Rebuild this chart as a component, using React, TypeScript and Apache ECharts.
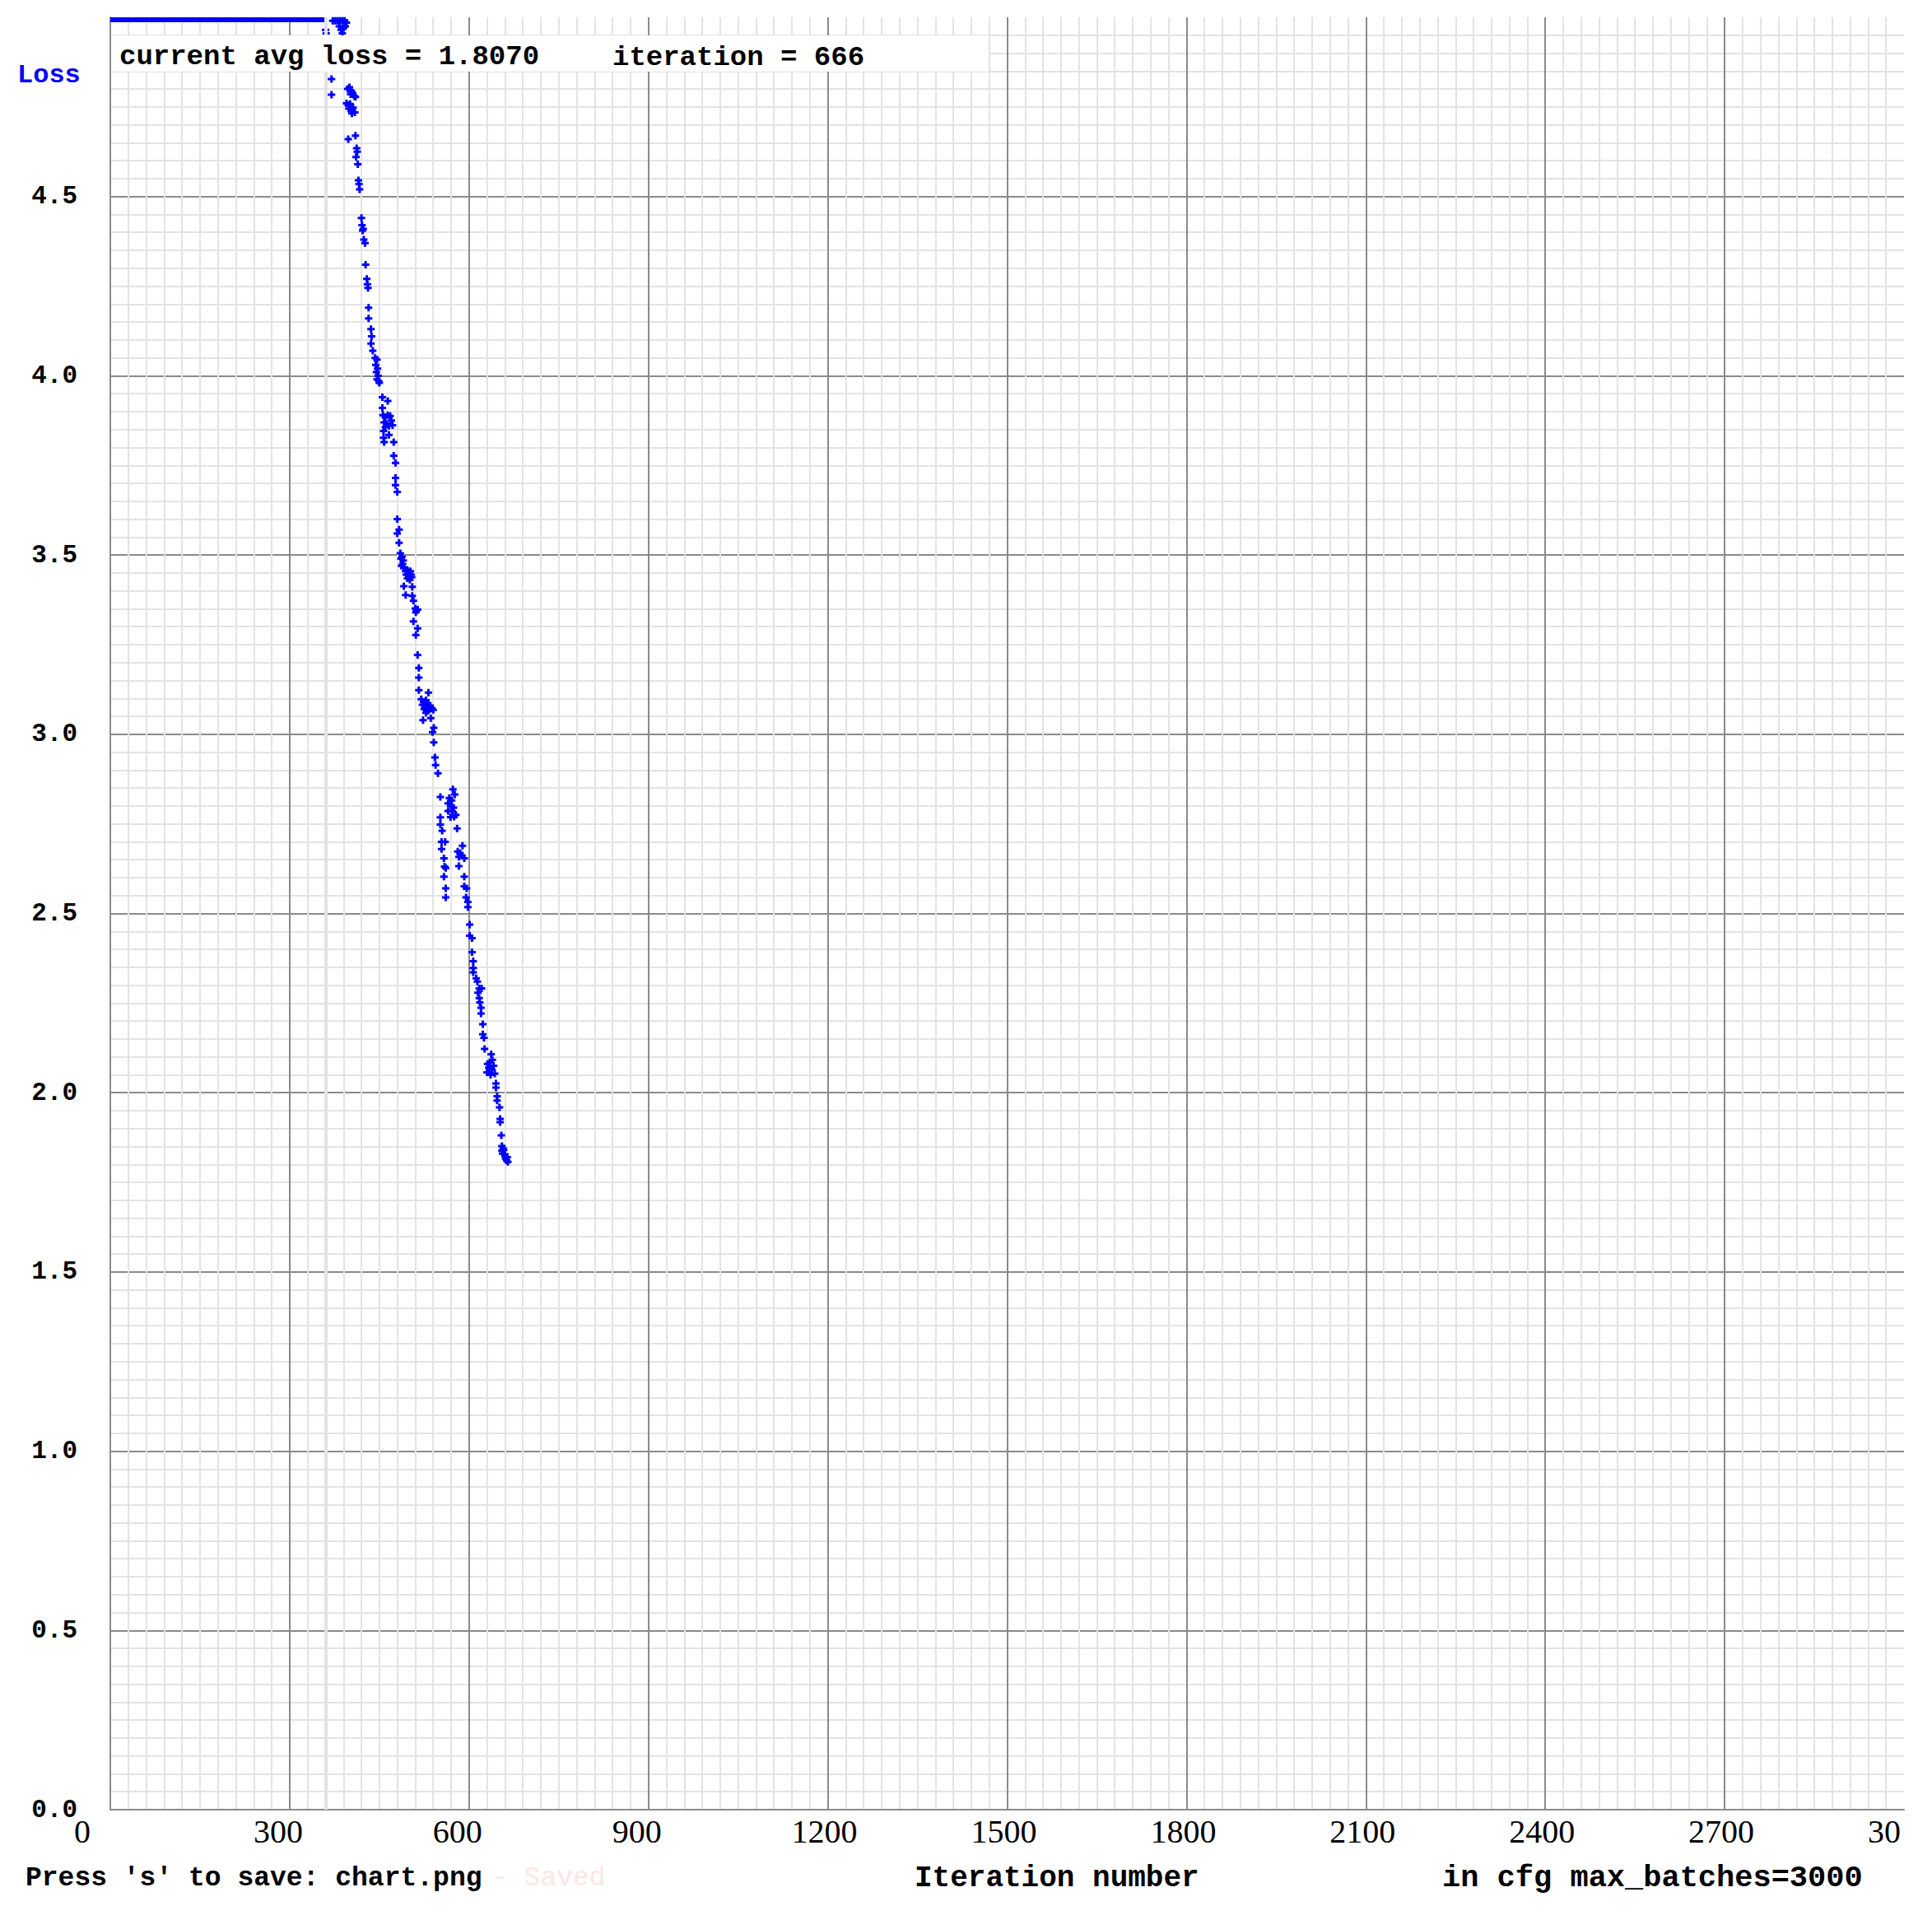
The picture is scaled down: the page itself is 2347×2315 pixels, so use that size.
import React, { useEffect, useRef } from "react";
import * as echarts from "echarts";

// ---- chart constants / labels ----
const MAX_BATCHES = 3000;
const Y_MAX = 5;
const X_STEP = 300;
const Y_STEP = 0.5;
const CURRENT_AVG_LOSS = 1.807;
const CURRENT_ITERATION = 666;
const HIGHLIGHT_MINOR_ITER = 360;

// iterations whose loss was above the chart top: drawn clamped on the top edge
const clampedRun: [number, number][] = [
  [0, 4.993],
  [358, 4.993],
];

// [iteration, avg loss]
const pointsTop: [number, number][] = [
  [360, 4.965], [361, 4.955], [372, 4.99], [376, 4.99], [380, 4.99], [384, 4.99],
  [388, 4.99], [392, 4.99], [395, 4.985], [383, 4.975], [386, 4.965], [390, 4.97],
  [388, 4.955], [393, 4.975],
];

const points45: [number, number][] = [
  [370, 4.828], [370, 4.784], [397, 4.8], [400, 4.805], [403, 4.795], [405, 4.79],
  [402, 4.785], [408, 4.78], [410, 4.778], [395, 4.76], [398, 4.755], [401, 4.758],
  [399, 4.745], [403, 4.74], [406, 4.748], [404, 4.732], [409, 4.735], [398, 4.66],
  [410, 4.67], [412, 4.635], [413, 4.625], [411, 4.61], [414, 4.59], [415, 4.545],
  [416, 4.535], [417, 4.52], [420, 4.44], [421, 4.42], [423, 4.41], [422, 4.405],
  [424, 4.38], [426, 4.37], [427, 4.31], [429, 4.27], [430, 4.255], [431, 4.245],
  [432, 4.19], [432, 4.16], [436, 4.13], [437, 4.11], [436, 4.09], [439, 4.07],
];

const points40: [number, number][] = [
  [443, 4.05], [446, 4.045], [444, 4.03], [447, 4.02], [445, 4.01], [448, 4.0],
  [446, 3.99], [449, 3.985], [450, 3.98], [455, 3.94], [464, 3.93], [455, 3.91],
  [456, 3.89], [460, 3.885], [464, 3.89], [468, 3.888], [470, 3.875], [458, 3.87],
  [462, 3.865], [466, 3.86], [472, 3.862], [460, 3.857], [457, 3.846], [466, 3.835],
  [457, 3.827], [458, 3.815], [474, 3.815], [474, 3.777], [477, 3.757], [477, 3.715],
  [477, 3.695], [480, 3.676], [480, 3.6], [483, 3.571], [480, 3.56], [483, 3.534],
];

const points35: [number, number][] = [
  [485, 3.505], [488, 3.495], [486, 3.49], [490, 3.485], [489, 3.475], [487, 3.47],
  [491, 3.466], [494, 3.455], [497, 3.458], [500, 3.452], [502, 3.455], [495, 3.445],
  [499, 3.44], [503, 3.445], [497, 3.435], [501, 3.431], [504, 3.438], [491, 3.413],
  [505, 3.411], [494, 3.388], [505, 3.386], [507, 3.372], [510, 3.351], [512, 3.345],
  [514, 3.348], [511, 3.34], [507, 3.315], [514, 3.295], [511, 3.277], [514, 3.221],
  [516, 3.185], [516, 3.158], [516, 3.123], [532, 3.116],
];

const points30: [number, number][] = [
  [520, 3.098], [524, 3.09], [528, 3.095], [522, 3.082], [527, 3.078], [531, 3.085],
  [535, 3.08], [525, 3.07], [530, 3.065], [534, 3.07], [538, 3.072], [528, 3.06],
  [540, 3.068], [523, 3.039], [536, 3.045], [541, 3.018], [539, 3.006], [541, 2.977],
  [543, 2.935], [544, 2.914], [548, 2.891],
];

const points27: [number, number][] = [
  [552, 2.825], [573, 2.846], [576, 2.832], [567, 2.822], [571, 2.815], [565, 2.807],
  [570, 2.8], [574, 2.795], [565, 2.786], [572, 2.785], [578, 2.775], [569, 2.769],
  [575, 2.77], [552, 2.768], [552, 2.748], [555, 2.731], [580, 2.737], [554, 2.7],
  [560, 2.7], [554, 2.68], [589, 2.689], [581, 2.673], [585, 2.668], [588, 2.662],
  [583, 2.658], [592, 2.654], [558, 2.654], [559, 2.631], [561, 2.627], [583, 2.632],
  [558, 2.603], [592, 2.603], [561, 2.57], [592, 2.576], [596, 2.57], [561, 2.545],
  [595, 2.545], [598, 2.532], [598, 2.518],
];

const points22: [number, number][] = [
  [601, 2.469], [601, 2.438], [605, 2.431], [605, 2.392], [607, 2.367], [607, 2.348],
  [607, 2.336], [612, 2.319], [614, 2.31], [617, 2.291], [621, 2.291], [615, 2.279],
  [617, 2.264], [618, 2.252], [620, 2.237], [620, 2.221], [623, 2.191], [623, 2.163],
  [625, 2.153], [626, 2.122],
];

const points18: [number, number][] = [
  [637, 2.107], [639, 2.092], [631, 2.08], [635, 2.085], [641, 2.075], [633, 2.07],
  [638, 2.065], [630, 2.057], [643, 2.053], [636, 2.05], [645, 2.026], [645, 2.014],
  [647, 1.99], [647, 1.978], [651, 1.959], [652, 1.927], [652, 1.918], [654, 1.881],
  [655, 1.851], [657, 1.845], [655, 1.838], [658, 1.84], [656, 1.83], [660, 1.828],
  [661, 1.816], [664, 1.82], [663, 1.811], [665, 1.807],
];

const PLUS = "path://M3,0H6V3H9V6H6V9H3V6H0V3H3Z";
const MONO = "Liberation Mono";
const SERIF = "Liberation Serif";

export default function App() {
  const ref = useRef<HTMLDivElement>(null);

  useEffect(() => {
    if (!ref.current) return;
    document.documentElement.style.overflow = "hidden";
    document.body.style.margin = "0";
    document.body.style.overflow = "hidden";
    const chart = echarts.init(ref.current, undefined, { renderer: "svg" });
    const allPoints = [
      ...pointsTop, ...points45, ...points40, ...points35,
      ...points30, ...points27, ...points22, ...points18,
    ];
    const txt = (
      text: string, x: number, y: number, size: number,
      fill = "#000", weight: any = "bold", family = MONO
    ) => ({
      type: "text",
      x,
      y,
      z: 101,
      silent: true,
      style: {
        text,
        fill,
        fontFamily: family,
        fontSize: size,
        fontWeight: weight,
        align: "left",
        verticalAlign: "middle",
      },
    });

    chart.setOption({
      animation: false,
      backgroundColor: "#ffffff",
      grid: { left: 134, top: 21, right: 34, bottom: 117, outerBoundsMode: "none", containLabel: false },
      xAxis: {
        type: "value",
        min: 0,
        max: MAX_BATCHES,
        interval: X_STEP,
        axisLine: { show: true, onZero: false, lineStyle: { color: "#8a8a8a", width: 2 } },
        axisTick: { show: false },
        minorTick: { show: false, splitNumber: 10 },
        splitLine: {
          show: true,
          showMinLine: false,
          showMaxLine: false,
          lineStyle: { color: "#8a8a8a", width: 2 },
        },
        minorSplitLine: { show: true, lineStyle: { color: "#e3e3e3", width: 2 } },
        axisLabel: {
          show: true,
          margin: 6,
          formatter: (v: number) => `{a|${v === MAX_BATCHES ? String(v).slice(0, 2) : v}}`,
          rich: {
            a: {
              width: 88,
              align: "left",
              fontFamily: SERIF,
              fontSize: 40,
              lineHeight: 40,
              color: "#000",
            },
          },
        },
      },
      yAxis: {
        type: "value",
        min: 0,
        max: Y_MAX,
        interval: Y_STEP,
        axisLine: { show: true, lineStyle: { color: "#8a8a8a", width: 2 } },
        axisTick: { show: false },
        minorTick: { show: false, splitNumber: 10 },
        splitLine: {
          show: true,
          showMinLine: false,
          showMaxLine: false,
          lineStyle: { color: "#8a8a8a", width: 2 },
        },
        minorSplitLine: { show: true, lineStyle: { color: "#e3e3e3", width: 2 } },
        axisLabel: {
          show: true,
          showMaxLabel: false,
          margin: 40,
          align: "right",
          fontFamily: MONO,
          fontWeight: "bold",
          fontSize: 31,
          color: "#000",
          formatter: (v: number) => v.toFixed(1),
        },
      },
      series: [
        {
          type: "line",
          z: 2,
          data: clampedRun,
          showSymbol: false,
          symbol: "none",
          clip: false,
          lineStyle: { color: "#0000ff", width: 6 },
          markLine: {
            silent: true,
            symbol: "none",
            label: { show: false },
            lineStyle: { color: "#e2e2e2", width: 4, type: "solid" },
            data: [{ xAxis: HIGHLIGHT_MINOR_ITER }],
          },
        },
        {
          type: "scatter",
          z: 3,
          data: allPoints,
          symbol: PLUS,
          symbolSize: 9,
          itemStyle: { color: "#0000ff", opacity: 1 },
        },
      ],
      graphic: [
        {
          type: "rect",
          z: 100,
          silent: true,
          shape: { x: 135, y: 43, width: 1066, height: 44 },
          style: { fill: "#ffffff" },
        },
        txt(`current avg loss = ${CURRENT_AVG_LOSS.toFixed(4)}`, 145, 69, 34),
        txt(`iteration = ${CURRENT_ITERATION}`, 744, 70, 34),
        txt("Loss", 21, 91, 32, "#0000ff"),
        txt("Press 's' to save: chart.png", 31, 2281, 33),
        txt("- Saved", 597, 2281, 33, "#fde6e6", "normal"),
        txt("Iteration number", 1111, 2281, 36),
        txt(`in cfg max_batches=${MAX_BATCHES}`, 1752, 2281, 37),
      ],
    });
    return () => chart.dispose();
  }, []);

  return (
    <div
      ref={ref}
      style={{ position: "fixed", left: 0, top: 0, width: 2347, height: 2315, background: "#fff" }}
    />
  );
}
